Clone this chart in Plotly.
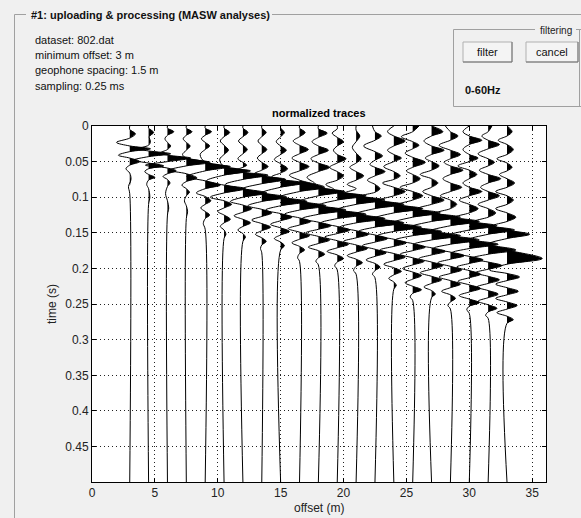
import plotly.graph_objects as go

# ---------------- data ----------------
offsets = [3.0, 4.5, 6.0, 7.5, 9.0, 10.5, 12.0, 13.5, 15.0, 16.5, 18.0,
           19.5, 21.0, 22.5, 24.0, 25.5, 27.0, 28.5, 30.0, 31.5, 33.0]

x_ticks = [0, 5, 10, 15, 20, 25, 30, 35]
y_ticks = [0, 0.05, 0.1, 0.15, 0.2, 0.25, 0.3, 0.35, 0.4, 0.45]
y_tick_labels = ["0", "0.05", "0.1", "0.15", "0.2", "0.25", "0.3", "0.35", "0.4", "0.45"]

info_lines = ["dataset: 802.dat", "minimum offset: 3 m", "geophone spacing: 1.5 m", "sampling: 0.25 ms"]

# wiggle keypoints per trace: (time in ms, normalized deflection in m)
trace_01 = [(0,0),(5,0),(11,0.45),(17,0),(23,-1.05),(28,0),(32,1.65),(36,0),(41,-0.9),(45,0),(50,0.8),(55,0),
            (60,-0.3),(66,0),(75,0.1),(85,-0.1),(95,0),(500,0)]
trace_02 = [(0,0),(3,0),(9,0.4),(15,0.05),(22,0.15),(27,0),(32,-0.9),(35,0),(39,1.75),(43,0),(48,-1.2),(52,0),
            (56,1.2),(60,0),(64,-0.3),(68,0),(72,0.5),(76,0),(82,-0.15),(88,0),(100,0.1),(110,0),(500,0)]
trace_03 = [(0,0),(3,0),(8,0.5),(13,0),(18,-0.2),(23,0),(28,0.25),(33,0),(38,-0.6),(41,0),(45,1.85),(50,0),
            (55,-1.75),(59,0),(63,0.7),(67,0),(71,-0.35),(75,0),(80,0.2),(85,0),(95,-0.15),(105,0),(115,0.1),
            (125,0),(500,0)]
trace_04 = [(0,0),(3,0),(8,0.45),(13,0),(18,-0.25),(23,0),(28,0.3),(34,0),(40,-0.3),(45,0),(51,1.9),(56,0),
            (62,-1.35),(67,0),(73,0.85),(78,0),(83,-0.35),(88,0),(93,0.25),(98,0),(105,-0.15),(112,0),(120,0.1),
            (130,0),(500,0)]
trace_05 = [(0,0),(3,0),(8,0.5),(13,0),(18,-0.3),(23,0),(28,0.35),(33,0),(40,-0.4),(51,0),(57,2.0),(63,0),
            (71,-1.45),(77,0),(83,1.2),(88,0),(94,-0.7),(99,0),(105,0.45),(110,0),(115,-0.35),(120,0),(125,0.35),
            (130,0),(137,-0.15),(145,0),(500,0)]
trace_06 = [(0,0),(3,0),(9,0.45),(15,0),(21,-0.3),(27,0),(34,0.35),(40,0),(47,-0.35),(57,0),(63,2.1),(69,0),
            (77,-1.4),(83,0),(88,1.7),(94,0),(100,-1.1),(105,0),(110,0.6),(115,0),(120,-0.5),(125,0),(131,0.5),
            (136,0),(141,-0.3),(146,0),(152,0.15),(158,0),(500,0)]
trace_07 = [(0,0),(3,0),(9,0.4),(15,0),(21,-0.35),(27,0),(33,0.35),(39,0),(46,-0.4),(51,0),(55,0.3),(58,0),
            (62,-0.6),(65,0),(69,2.0),(75,0),(82,-1.4),(88,0),(94,1.9),(100,0),(106,-1.0),(111,0),(116,0.7),
            (121,0),(126,-0.7),(131,0),(136,0.6),(141,0),(146,-0.4),(151,0),(156,0.2),(162,0),(500,0)]
trace_08 = [(0,0),(3,0),(9,0.35),(15,0),(21,-0.3),(27,0),(33,0.4),(39,0),(45,-0.35),(51,0),(57,0.5),(62,0),
            (67,-0.6),(70,0),(75,1.9),(81,0),(88,-1.5),(94,0),(100,2.0),(106,0),(112,-1.1),(117,0),(122,0.8),
            (127,0),(132,-0.8),(137,0),(142,0.7),(147,0),(152,-0.5),(157,0),(162,0.35),(167,0),(172,-0.1),
            (178,0),(500,0)]
trace_09 = [(0,0),(3,0),(9,0.3),(15,0),(22,-0.35),(28,0),(34,0.45),(40,0),(47,-0.5),(53,0),(60,0.55),(66,0),
            (71,-0.7),(75,0),(80,1.9),(86,0),(94,-1.5),(100,0),(106,2.1),(112,0),(118,-1.2),(123,0),(128,0.9),
            (133,0),(138,-0.8),(143,0),(148,0.7),(153,0),(158,-0.5),(163,0),(168,0.3),(174,0),(500,0)]
trace_10 = [(0,0),(3,0),(9,0.45),(15,0),(21,-0.5),(27,0),(33,0.7),(39,0),(45,-0.6),(51,0),(57,0.75),(63,0),
            (69,-0.8),(76,0),(86,2.0),(92,0),(100,-1.6),(106,0),(112,2.1),(118,0),(124,-1.2),(129,0),(134,0.9),
            (139,0),(144,-0.9),(149,0),(154,0.8),(159,0),(164,-0.6),(169,0),(174,0.4),(179,0),(185,-0.15),
            (190,0),(500,0)]
trace_11 = [(0,0),(4,0),(10,0.7),(16,0),(22,-0.5),(28,0),(34,0.8),(40,0),(46,-0.6),(52,0),(58,0.9),(64,0),
            (72,-0.9),(80,-0.3),(86,0),(92,2.1),(98,0),(106,-1.5),(112,0),(118,2.2),(124,0),(130,-1.3),(135,0),
            (140,1.0),(145,0),(150,-1.0),(155,0),(160,0.9),(165,0),(170,-0.8),(175,0),(180,0.5),(185,0),
            (190,-0.2),(195,0),(500,0)]
trace_12 = [(0,0),(4,0),(10,-0.4),(16,0),(22,0.5),(28,0),(34,-0.3),(40,0),(46,0.7),(52,0),(58,-0.6),(64,0),
            (70,0.5),(76,0),(82,-0.9),(88,-0.3),(92,0),(98,2.3),(104,0),(112,-1.6),(118,0),(124,2.3),(130,0),
            (136,-1.3),(141,0),(146,1.0),(151,0),(156,-1.0),(161,0),(166,0.9),(171,0),(176,-0.8),(181,0),
            (186,0.5),(191,0),(196,-0.2),(202,0),(500,0)]
trace_13 = [(0,0),(6,0),(14,0.3),(22,0),(30,-0.3),(38,0),(46,0.4),(52,0),(58,-0.5),(64,0),
            (70,0.6),(76,0),(82,-0.7),(88,0),(94,-0.9),(98,0),(104,2.3),(110,0),(118,-1.6),(124,0),(130,2.3),
            (136,0),(142,-1.3),(147,0),(152,1.0),(157,0),(162,-1.0),(167,0),(172,0.9),(177,0),(182,-0.7),
            (187,0),(192,0.5),(197,0),(203,-0.2),(208,0),(500,0)]
trace_14 = [(0,-0.2),(8,0),(14,0.5),(20,0),(28,-0.9),(36,0),(42,0.6),(48,0),(54,-0.4),(58,0),(64,0.8),(70,0),
            (76,-0.6),(82,0),(88,0.4),(93,0),(98,-1.0),(104,0),(110,2.3),(116,0),(124,-1.6),(130,0),(136,2.3),
            (142,0),(148,-1.3),(153,0),(158,1.0),(163,0),(168,-1.0),(173,0),(178,0.9),(183,0),(188,-0.7),
            (193,0),(198,0.4),(203,0),(208,-0.2),(213,0),(500,0)]
trace_15 = [(0,0),(8,-0.5),(14,0),(21,0.9),(28,0),(34,-0.5),(40,0),(45,0.6),(50,0),(57,-0.8),(64,0),(70,0.5),
            (75,0),(80,-0.9),(86,0),(92,0.9),(98,0),(104,-1.1),(110,0),(116,2.3),(122,0),(130,-1.6),(136,0),
            (142,2.2),(148,0),(154,-1.3),(159,0),(164,1.0),(169,0),(174,-1.1),(179,0),(184,0.9),(189,0),
            (194,-0.8),(199,0),(204,0.6),(209,0),(214,-0.4),(219,0),(224,0.2),(229,0),(500,0)]
trace_16 = [(0,0.5),(8,0),(15,-0.9),(22,0),(27,0.5),(32,0),(38,-0.6),(44,0),(51,1.0),(58,0),(63,-0.5),(68,0),
            (74,0.6),(80,0),(86,-1.0),(92,0),(98,0.8),(104,0),(110,-1.1),(116,0),(122,2.2),(128,0),(136,-1.6),
            (142,0),(148,2.3),(154,0),(160,-1.4),(165,0),(170,1.0),(175,0),(180,-1.0),(185,0),(190,0.9),(195,0),
            (200,-0.8),(205,0),(210,0.7),(215,0),(220,-0.6),(225,0),(230,0.7),(235,0),(240,-0.2),(245,0),(500,0)]
trace_17 = [(0,0),(8,0.9),(14,0),(21,-0.6),(28,0),(34,1.0),(40,0),(45,-0.5),(50,0),(56,0.6),(62,0),(68,-0.9),
            (74,0),(80,0.5),(86,0),(92,-0.7),(98,0),(104,1.0),(110,0),(116,-1.1),(122,0),(128,2.3),(134,0),
            (142,-1.7),(148,0),(154,2.3),(160,0),(166,-1.4),(171,0),(176,1.1),(181,0),(186,-1.0),(191,0),
            (196,0.9),(201,0),(206,-0.9),(211,0),(216,0.8),(221,0),(226,-0.6),(231,0),(236,0.3),(241,0),(500,0)]
trace_18 = [(0,-0.4),(8,0),(14,0.6),(20,0),(27,-0.9),(34,0),(40,0.8),(46,0),(51,-0.5),(56,0),(62,1.0),(68,0),
            (74,-0.6),(80,0),(86,0.9),(92,0),(98,-0.8),(104,0),(110,0.5),(116,0),(122,-1.1),(128,0),(134,2.3),
            (140,0),(148,-1.7),(154,0),(160,2.3),(166,0),(172,-1.4),(177,0),(182,1.1),(187,0),(192,-1.0),
            (197,0),(202,0.9),(207,0),(212,-0.9),(217,0),(222,0.8),(227,0),(232,-0.7),(237,0),(242,0.4),
            (247,0),(252,-0.2),(257,0),(500,0)]
trace_19 = [(0,0),(8,-0.5),(14,0),(20,1.0),(26,0),(33,-0.5),(40,0),(45,0.7),(50,0),(56,-0.9),(62,0),(68,0.6),
            (74,0),(80,-0.5),(86,0),(92,1.0),(98,0),(104,-0.8),(110,0),(116,0.7),(122,0),(128,-1.1),(134,0),
            (140,2.2),(146,0),(154,-1.7),(160,0),(166,2.3),(172,0),(178,-1.4),(183,0),(188,1.1),(193,0),
            (198,-1.0),(203,0),(208,0.9),(213,0),(218,-0.9),(223,0),(228,0.9),(233,0),(238,-0.8),(243,0),
            (248,0.8),(253,0),(258,-0.2),(263,0),(500,0)]
trace_20 = [(0,0.3),(8,0),(14,-0.5),(20,0),(26,0.9),(32,0),(39,-0.8),(46,0),(51,0.5),(56,0),(62,-0.7),(68,0),
            (74,1.0),(80,0),(86,-0.6),(92,0),(98,0.9),(104,0),(110,-0.8),(116,0),(122,0.6),(128,0),(134,-1.1),
            (140,0),(146,2.1),(152,0),(160,-1.6),(167,0),(174,2.2),(180,0),(186,-1.4),(191,0),(196,1.1),(201,0),
            (206,-1.0),(211,0),(216,0.9),(221,0),(226,-0.9),(231,0),(236,0.8),(241,0),(246,-0.8),(251,0),
            (256,0.7),(261,0),(266,-0.2),(270,0),(500,0)]
trace_21 = [(0,0),(8,0.4),(14,0),(20,-0.7),(26,0),(33,0.5),(40,0),(46,-0.8),(52,0),(58,0.4),(63,0),(68,-0.6),
            (74,0),(80,0.6),(86,0),(92,-0.9),(98,0),(104,0.5),(110,0),(116,-0.9),(122,0),(128,0.7),(134,0),
            (140,-1.1),(146,0),(152,1.8),(158,0),(166,-1.5),(174,0),(186,2.8),(194,0),(202,-1.4),(207,0),
            (212,1.0),(217,0),(222,-0.9),(227,0),(232,0.9),(237,0),(242,-0.9),(247,0),(252,0.8),(257,0),
            (262,-0.8),(267,0),(272,0.5),(277,0),(500,0)]

traces = [trace_01, trace_02, trace_03, trace_04, trace_05, trace_06, trace_07, trace_08, trace_09, trace_10,
          trace_11, trace_12, trace_13, trace_14, trace_15, trace_16, trace_17, trace_18, trace_19, trace_20,
          trace_21]

# ---------------- geometry ----------------
W, H = 581, 518
L, R, T, B = 92, 546, 126, 482
T_MAX = 0.49975
X_MAX = 36.1

def px(p):
    return (p - L) / (R - L)

def py(p):
    return (B - p) / (B - T)

FONT = "Liberation Sans, Arial, sans-serif"

fig = go.Figure()

# positive lobes (black fill)
for off, pts in zip(offsets, traces):
    n = len(pts)
    i = 0
    while i < n:
        if pts[i][1] > 0:
            s = i
            while i < n and pts[i][1] > 0:
                i += 1
            pre = (pts[s - 1][0] if s > 0 else pts[s][0], 0)
            post = (pts[i][0] if i < n else pts[-1][0], 0)
            poly = [pre] + pts[s:i] + [post]
            fig.add_trace(go.Scatter(
                x=[off + a for _, a in poly], y=[t / 1000 for t, _ in poly],
                mode="lines", line=dict(color="black", width=0, shape="spline", smoothing=0.6),
                fill="toself", fillcolor="black", hoverinfo="skip", showlegend=False))
        else:
            i += 1

# wiggle lines
for off, pts in zip(offsets, traces):
    fig.add_trace(go.Scatter(
        x=[off + a for _, a in pts], y=[t / 1000 for t, _ in pts],
        mode="lines", line=dict(color="black", width=1, shape="spline", smoothing=1),
        hoverinfo="skip", showlegend=False))

axis_common = dict(showline=True, linecolor="black", linewidth=1, mirror="allticks",
                   ticks="inside", ticklen=4, tickcolor="black", zeroline=False,
                   showgrid=True, gridcolor="#222222", gridwidth=1, griddash="1px,3px",
                   tickfont=dict(family=FONT, size=12, color="#222222"))

fig.update_xaxes(range=[0, X_MAX], tickvals=x_ticks, ticktext=[str(v) for v in x_ticks], **axis_common)
fig.update_yaxes(range=[T_MAX, 0], tickvals=y_ticks, ticktext=y_tick_labels, **axis_common)

ann = []
shapes = []

def text(x, y, s, size=11, bold=False, anchor="left", angle=0, color="#111111"):
    ann.append(dict(x=px(x), y=py(y), xref="paper", yref="paper", text=f"<b>{s}</b>" if bold else s,
                    showarrow=False, xanchor=anchor, yanchor="middle", textangle=angle,
                    font=dict(family=FONT, size=size, color=color)))

def line(x0, y0, x1, y1, color="#a0a0a0", width=1):
    shapes.append(dict(type="line", xref="paper", yref="paper", x0=px(x0), y0=py(y0), x1=px(x1), y1=py(y1),
                       line=dict(color=color, width=width)))

# axis titles and plot title
text(319, 113, "normalized traces", size=11, bold=True, anchor="center", color="black")
text(319, 508, "offset (m)", size=12, anchor="center", color="#222222")
text(52, 304, "time (s)", size=12, anchor="center", angle=-90, color="#222222")

# main panel frame
line(14.5, 14.5, 26, 14.5)
line(272, 14.5, 581, 14.5)
line(14.5, 14.5, 14.5, 518)
text(29, 15, "#1: uploading &amp; processing (MASW analyses)", size=11, bold=True, color="#111111")

for k, s in enumerate(info_lines):
    text(33, 40 + 15.2 * k, s, size=11, color="#111111")

# filtering box
line(453.5, 29.5, 535, 29.5)
line(576, 29.5, 581, 29.5)
line(453.5, 29.5, 453.5, 106.5)
line(453.5, 106.5, 581, 106.5)
line(579.5, 29.5, 579.5, 106.5)
text(556, 30, "filtering", size=10, anchor="center", color="#222222")

for (x0, x1, lab) in [(463, 512, "filter"), (526, 578, "cancel")]:
    shapes.append(dict(type="rect", xref="paper", yref="paper", x0=px(x0), y0=py(62), x1=px(x1), y1=py(42),
                       fillcolor="#f4f4f4", line=dict(color="#b0b0b0", width=1)))
    line(x1, 42, x1, 62, color="#707070")
    line(x0, 62, x1, 62, color="#707070")
    text((x0 + x1) / 2, 52, lab, size=11, anchor="center", color="#111111")

text(463, 90, "0-60Hz", size=11, bold=True, color="#111111")

fig.update_layout(
    width=W, height=H,
    margin=dict(l=L, r=W - R, t=T, b=H - B),
    paper_bgcolor="#f0f0f0", plot_bgcolor="white",
    showlegend=False, hovermode=False,
    annotations=ann, shapes=shapes,
)

fig.write_html("out.html", config={"displayModeBar": False, "staticPlot": True},
               post_script="document.body.style.margin='0';document.body.style.overflow='hidden';")
